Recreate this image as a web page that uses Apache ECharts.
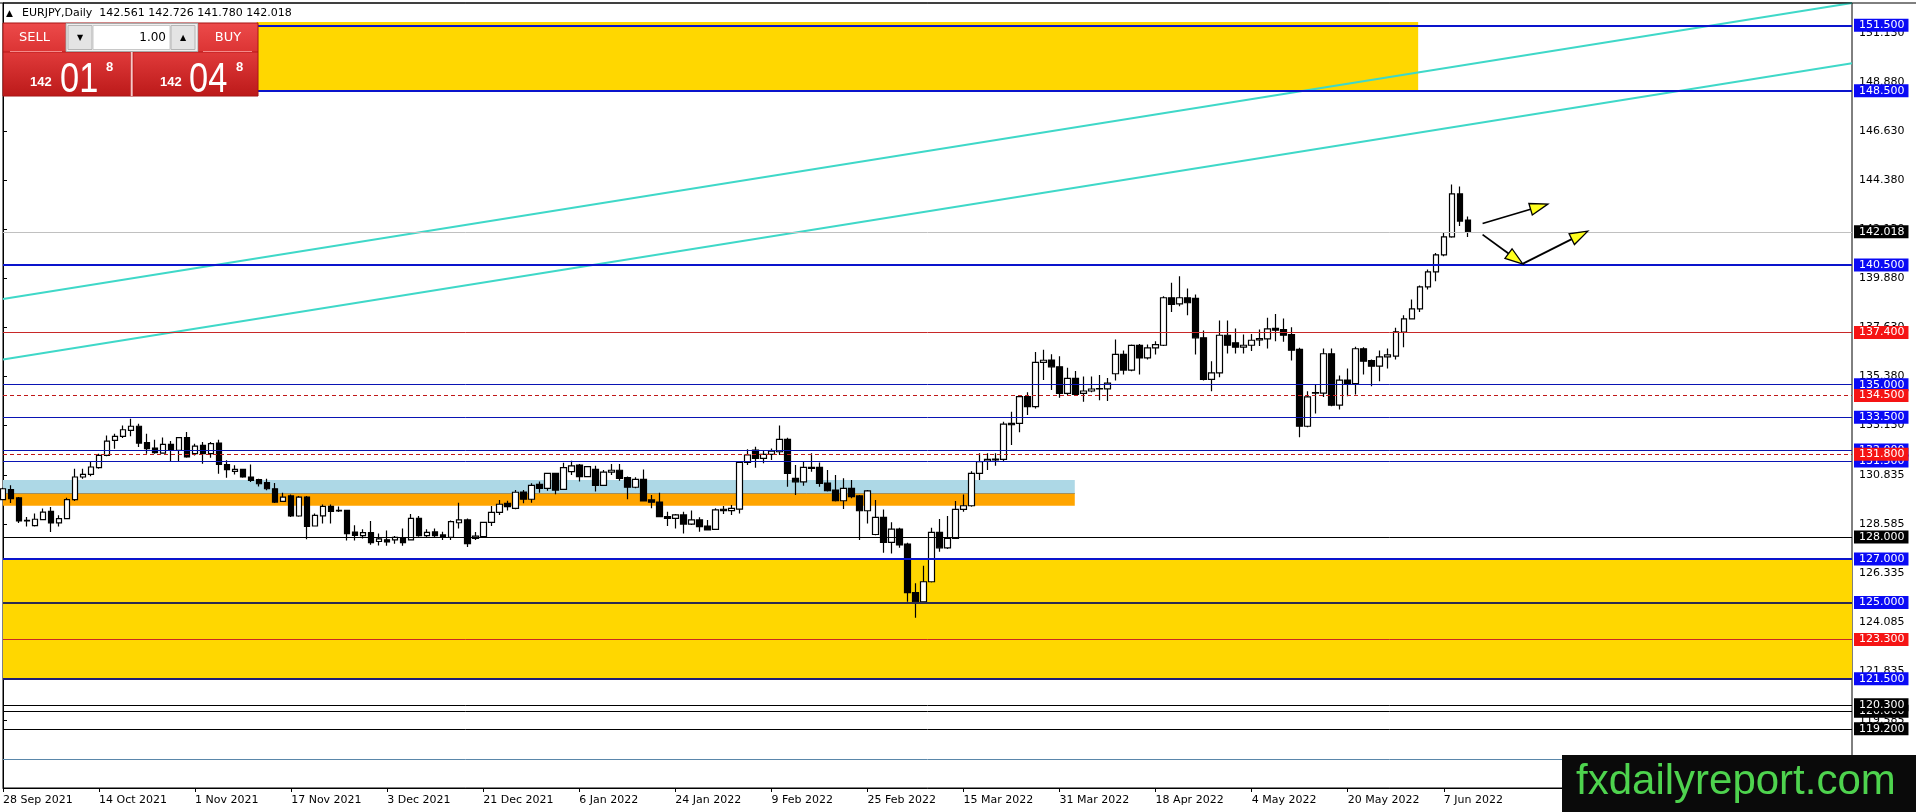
<!DOCTYPE html>
<html><head><meta charset="utf-8">
<script src="https://cdn.jsdelivr.net/npm/echarts@6/dist/echarts.min.js"></script>
<style>html,body{margin:0;padding:0;background:#fff}#c{width:1916px;height:812px}</style>
</head><body><div id="c"></div>
<script>
// ---------- DATA ----------
const tradingDays = [
  ['Sep 2021',[28,29,30]],
  ['Oct 2021',[1,4,5,6,7,8,11,12,13,14,15,18,19,20,21,22,25,26,27,28,29]],
  ['Nov 2021',[1,2,3,4,5,8,9,10,11,12,15,16,17,18,19,22,23,24,25,26,29,30]],
  ['Dec 2021',[1,2,3,6,7,8,9,10,13,14,15,16,17,20,21,22,23,24,27,28,29,30,31]],
  ['Jan 2022',[3,4,5,6,7,10,11,12,13,14,17,18,19,20,21,24,25,26,27,28,31]],
  ['Feb 2022',[1,2,3,4,7,8,9,10,11,14,15,16,17,18,21,22,23,24,25,28]],
  ['Mar 2022',[1,2,3,4,7,8,9,10,11,14,15,16,17,18,21,22,23,24,25,28,29,30,31]],
  ['Apr 2022',[1,4,5,6,7,8,11,12,13,14,15,18,19,20,21,22,25,26,27,28,29]],
  ['May 2022',[2,3,4,5,6,9,10,11,12,13,16,17,18,19,20,23,24,25,26,27,30,31]],
  ['Jun 2022',[1,2,3,6,7,8,9,10]]
];
const futureSlots = 48;

const opens = [
129.72,130.18,129.80,128.77,128.53,128.80,129.18,128.65,128.85,129.72,
130.76,130.88,131.19,131.75,132.44,132.63,132.90,133.09,132.34,132.09,
131.86,132.26,131.98,132.57,131.83,132.21,131.83,132.32,131.33,131.02,
131.11,130.76,130.64,130.50,130.22,129.64,129.89,128.97,129.84,128.51,
128.98,129.41,129.23,129.23,128.23,128.07,128.21,127.80,127.88,127.87,
127.98,127.87,128.86,128.07,128.24,128.10,127.99,128.66,128.79,127.94,
128.02,128.68,129.14,129.55,129.32,130.07,129.74,130.42,130.24,130.93,
130.19,131.01,131.31,130.78,131.11,130.38,130.98,131.07,130.73,130.29,
130.65,129.71,129.61,128.94,128.86,129.02,128.60,128.79,128.51,128.36,
129.28,129.22,129.29,131.43,132.00,131.62,131.80,131.92,132.49,130.70,
130.54,131.20,131.20,130.48,130.16,129.67,130.24,129.89,129.21,128.12,
128.91,127.76,128.37,127.68,125.45,125.03,125.95,128.22,127.51,127.94,
129.27,129.44,130.93,131.49,131.55,131.57,133.22,133.22,134.45,133.99,
136.02,136.13,135.82,134.60,135.29,134.60,134.71,134.80,134.81,135.50,
136.39,135.67,136.80,136.23,136.69,136.81,138.99,138.71,138.99,138.96,
137.15,135.24,135.54,137.27,136.92,136.72,136.81,137.06,137.10,137.58,
137.53,137.30,136.62,133.09,134.61,134.61,136.42,134.06,135.21,135.05,
136.65,136.11,135.85,136.28,136.31,137.41,138.02,138.48,139.49,140.18,
140.96,141.79,143.76,142.561];
const highs = [
130.27,130.38,129.84,128.92,129.08,129.31,129.38,129.00,129.81,131.14,
131.14,131.45,131.83,132.67,132.75,133.13,133.44,133.21,132.75,132.47,
132.57,132.41,132.60,132.83,132.29,132.37,132.37,132.47,131.53,131.30,
131.14,131.33,130.68,130.68,130.48,130.04,129.96,129.89,129.89,129.08,
129.50,129.50,129.41,129.26,128.54,128.36,128.74,128.17,128.30,128.05,
128.40,129.06,128.97,128.36,128.40,128.25,128.76,129.58,128.86,128.24,
128.71,129.43,129.71,129.67,130.16,130.16,130.47,130.55,130.96,130.96,
131.42,131.51,131.36,131.27,131.28,131.08,131.36,131.36,130.78,130.75,
131.11,129.93,130.04,129.17,129.06,129.17,129.22,128.91,128.79,129.32,
129.43,129.48,131.49,132.03,132.15,131.95,132.07,133.12,132.56,131.31,
131.46,131.85,131.43,131.08,130.85,130.70,130.62,129.93,130.16,129.70,
129.27,128.68,128.43,127.74,125.88,126.69,128.43,128.83,128.97,129.66,
129.96,131.03,131.85,131.85,131.85,133.30,133.76,134.52,134.65,136.50,
136.60,136.40,136.30,135.78,135.63,135.37,135.37,135.44,135.31,137.07,
136.57,136.84,136.87,136.84,136.99,139.06,139.68,139.98,139.42,139.14,
137.49,136.08,137.95,137.95,137.58,137.30,137.33,137.53,138.07,138.25,
138.04,137.64,136.69,134.70,134.98,136.66,136.66,135.42,135.74,136.74,
136.72,136.16,136.57,136.66,137.61,138.19,138.91,139.55,140.29,141.05,
141.97,144.19,144.10,142.726];
const lows = [
129.69,129.57,128.65,128.49,128.49,128.77,128.23,128.49,128.83,129.66,
130.68,130.79,131.14,131.71,132.06,132.55,132.63,132.14,131.83,131.83,
131.83,131.45,131.45,131.65,131.75,131.37,131.65,130.91,130.73,130.88,
130.73,130.53,130.33,130.15,129.57,129.61,128.92,128.94,127.90,128.49,
128.62,128.62,129.15,127.85,127.85,127.94,127.65,127.62,127.60,127.70,
127.60,127.85,128.02,127.99,127.99,127.87,127.87,128.40,127.55,127.87,
127.99,128.51,129.02,129.22,129.28,129.55,129.58,130.04,130.13,129.97,
130.16,130.85,130.55,130.75,130.09,130.35,130.85,130.59,129.74,130.24,
129.63,129.32,128.91,128.51,128.40,128.17,128.56,128.25,128.30,128.33,
129.06,129.02,129.09,131.31,131.19,131.39,131.54,131.77,130.31,129.93,
130.36,131.00,130.31,130.09,129.63,129.29,129.78,127.87,128.63,128.09,
127.28,127.25,127.51,125.03,124.30,125.00,125.92,127.33,127.45,127.91,
129.17,129.40,130.62,131.08,131.28,131.49,132.23,132.81,133.61,133.91,
135.21,134.75,134.40,134.52,134.49,134.22,134.65,134.29,134.25,135.19,
135.47,135.62,135.47,136.16,136.39,136.77,138.34,138.60,138.19,136.39,
135.19,134.70,135.34,136.43,136.43,136.43,136.54,136.77,136.66,136.99,
136.97,136.11,132.59,133.05,133.68,134.43,134.01,133.86,134.47,134.55,
135.47,134.93,135.16,135.74,136.16,136.72,137.99,138.34,139.37,139.75,
140.90,141.74,142.28,141.780];
const closes = [
130.22,129.77,128.74,128.74,128.82,129.15,128.65,128.85,129.72,130.76,
130.88,131.22,131.75,132.41,132.63,132.93,133.09,132.32,132.06,131.88,
132.26,131.98,132.57,131.68,132.18,131.83,132.29,131.34,131.10,131.11,
130.76,130.61,130.45,130.22,129.61,129.84,128.97,129.84,128.49,129.00,
129.41,129.18,129.20,128.16,128.08,128.21,127.75,127.92,127.78,127.99,
127.75,128.86,128.07,128.22,128.07,127.99,128.71,128.79,127.70,128.05,
128.68,129.14,129.51,129.40,130.06,129.74,130.38,130.24,130.93,130.16,
131.19,131.27,130.78,131.24,130.38,130.98,131.07,130.70,130.29,130.65,
129.66,129.60,128.94,128.86,129.02,128.60,128.79,128.48,128.33,129.25,
129.22,129.32,131.43,131.77,131.62,131.80,131.95,132.49,130.93,130.54,
131.20,131.16,130.47,130.13,129.67,130.24,129.86,129.21,130.12,128.91,
127.76,128.37,127.64,125.45,125.03,125.95,128.22,127.51,127.94,129.27,
129.44,130.93,131.46,131.57,131.58,133.19,133.16,134.45,133.99,136.02,
136.12,135.82,134.60,135.29,134.55,134.71,134.80,134.82,135.07,136.39,
135.67,136.80,136.23,136.69,136.84,138.99,138.68,138.99,138.76,137.15,
135.24,135.54,137.27,136.81,136.72,136.81,137.04,137.12,137.56,137.50,
137.27,136.58,133.09,134.44,134.63,136.42,134.06,135.21,135.01,136.65,
136.08,135.85,136.28,136.37,137.43,138.02,138.48,139.49,140.18,140.96,
141.79,143.76,142.51,142.018];

const yTicks = [151.13,148.88,146.63,144.38,142.13,139.88,137.63,135.38,133.13,130.835,128.585,126.335,124.085,121.835,119.585];
const levelPrices = [151.5,148.5,142.018,140.5,137.4,135.0,134.5,133.5,132.0,131.5,131.8,128.0,127.0,125.0,123.3,121.5,120.0,120.3,119.2,117.8];
const levelKinds  = ['blueT','blueT','current','blueT','red','blue','redDash','blue','blue','blue','redDash','black','blueT','navyT','red','navyT','black','black','black','steel'];

const trendUpper = [[0,138.93],[231,152.52]];
const trendLower = [[0,136.16],[231,149.76]];
// [xStart, yStart, xEnd, yEnd] in bar-index / price
const arrowSegs = [[184.85,142.40,193.0,143.29],[184.85,141.89,189.9,140.53],[189.9,140.56,198.0,142.05]];
// rectangles: [xStart, yTop, xEnd, yBottom]
const zoneTopYellow = [31.7,151.65,176.8,148.5];
const zoneBottomYellow = [0,127.0,231,121.5];
const zoneLightBlue = [0,130.62,133.9,130.02];
const zoneOrange = [0,130.02,133.9,129.44];
const quote = {symbol:'EURJPY,Daily', o:'142.561', h:'142.726', l:'141.780', c:'142.018'};
const sellParts = ['142','01','8'];
const buyParts = ['142','04','8'];
const lotSize = '1.00';

// ---------- BUILD ----------
const dates = [];
tradingDays.forEach(([m,days])=>days.forEach(d=>dates.push(d+' '+m)));
const categories = dates.concat(new Array(futureSlots).fill(''));
const candleData = opens.map((o,i)=>[o, closes[i], lows[i], highs[i]]);
const FONT = 'DejaVu Sans';

const kindStyle = {
  blueT:{c:'#0A14CC',w:2,t:'solid',bg:'#0A0AF5',lab:true},
  blue:{c:'#0A14B4',w:1,t:'solid',bg:'#0A0AF5',lab:true},
  navyT:{c:'#1E1E78',w:2,t:'solid',bg:'#0A0AF5',lab:true},
  red:{c:'#C82828',w:1,t:'solid',bg:'#F51414',lab:true},
  redDash:{c:'#C01818',w:1,t:[4,3],bg:'#F51414',lab:true},
  black:{c:'#000000',w:1,t:'solid',bg:'#000000',lab:true},
  current:{c:'#C0C0C0',w:1,t:'solid',bg:'#000000',lab:true},
  steel:{c:'#5A87AA',w:1,t:'solid',bg:'#5A87AA',lab:false}
};
const dark125 = '#2C2C50';
const levelData = levelPrices.map((v,i)=>{
  const s = kindStyle[levelKinds[i]];
  return {
    yAxis: v,
    lineStyle:{color:(v===125.0?dark125:s.c), width:s.w, type:s.t},
    label:{show:s.lab, position:'end', distance:2, formatter:v.toFixed(3),
      color:'#fff', backgroundColor:s.bg, padding:[1,4,0,5], fontFamily:FONT, fontSize:11, lineHeight:12}
  };
});

const zoneItem = (z,color)=>[{xAxis:z[0],yAxis:z[1],itemStyle:{color:color}},{xAxis:z[2],yAxis:z[3]}];

const chart = echarts.init(document.getElementById('c'), null, {renderer:'canvas', width:1916, height:812});

const txt = (x,y,text,font,fill,align,va,extra)=>Object.assign({type:'text',x:x,y:y,z:101,silent:true,
  style:{text:text,font:font,fill:fill,align:align||'left',verticalAlign:va||'middle'}},extra||{});
const rect = (x,y,w,h,fill,stroke,extra)=>Object.assign({type:'rect',z:100,silent:true,shape:{x:x,y:y,width:w,height:h},
  style:{fill:fill,stroke:stroke||null,lineWidth:1}},extra||{});
const grad = (a,b)=>new echarts.graphic.LinearGradient(0,0,0,1,[{offset:0,color:a},{offset:1,color:b}]);

const graphics = [
  {type:'line',z:100,silent:true,shape:{x1:0,y1:3,x2:1916,y2:3},style:{stroke:'#000',lineWidth:1}},
  txt(6,13.5,'▲','9px "'+FONT+'"','#000'),
  txt(22,13.5,quote.symbol+'  '+quote.o+' '+quote.h+' '+quote.l+' '+quote.c,'11px "'+FONT+'"','#000'),
  // trading panel
  rect(3,23,255,73,'#B81818','#A01010'),
  rect(3.5,23.5,62,28,grad('#EC4A4A','#DC3434')),
  txt(34.5,37.5,'SELL','13px "'+FONT+'"','#fff','center'),
  {type:'line',z:101,silent:true,shape:{x1:10,y1:51.5,x2:62,y2:51.5},style:{stroke:'#F38A8A',lineWidth:1}},
  rect(66,23.5,132,28,'#F0F0F0','#A8A8A8'),
  rect(68,25.5,24,24,'#E4E4E4','#B4B4B4'),
  txt(80,37.5,'▼','8px "'+FONT+'"','#000','center'),
  rect(93,25.5,77,24,'#FFFFFF','#C8C8C8'),
  txt(166,37.5,lotSize,'12px "'+FONT+'"','#000','right'),
  rect(171,25.5,24,24,'#E4E4E4','#B4B4B4'),
  txt(183,37.5,'▲','8px "'+FONT+'"','#000','center'),
  rect(198.5,23.5,59,28,grad('#EC4A4A','#DC3434')),
  txt(228,37.5,'BUY','13px "'+FONT+'"','#fff','center'),
  {type:'line',z:101,silent:true,shape:{x1:203,y1:51.5,x2:252,y2:51.5},style:{stroke:'#F38A8A',lineWidth:1}},
  rect(3.5,52.5,126.5,43,grad('#E03A3A','#BC1A1A')),
  rect(133.5,52.5,124,43,grad('#E03A3A','#BC1A1A')),
  {type:'line',z:101,silent:true,shape:{x1:131.7,y1:52,x2:131.7,y2:96},style:{stroke:'#F6C8C8',lineWidth:2}},
  txt(30,82.7,sellParts[0],'bold 13px "Liberation Sans"','#fff'),
  txt(60,80,sellParts[1],'43px "Liberation Sans"','#fff','left','middle',{scaleX:0.8}),
  txt(106,67.4,sellParts[2],'bold 13px "Liberation Sans"','#fff'),
  txt(160,82.7,buyParts[0],'bold 13px "Liberation Sans"','#fff'),
  txt(189,80,buyParts[1],'43px "Liberation Sans"','#fff','left','middle',{scaleX:0.8}),
  txt(236,67.4,buyParts[2],'bold 13px "Liberation Sans"','#fff'),
  // watermark
  rect(1562,755,354,57,'#0A0A0A'),
  txt(1576,782,'fxdailyreport.com','42px "Liberation Sans"','#4ED34E')
];

function renderArrow(params, api){
  const p0 = api.coord([api.value(0), api.value(1)]);
  const p1 = api.coord([api.value(2), api.value(3)]);
  const dx = p1[0]-p0[0], dy = p1[1]-p0[1];
  const len = Math.sqrt(dx*dx+dy*dy);
  const ux = dx/len, uy = dy/len, nx = -uy, ny = ux;
  const L = 18, W = 6;
  const bx = p1[0]-ux*L, by = p1[1]-uy*L;
  return {type:'group', children:[
    {type:'line', shape:{x1:p0[0],y1:p0[1],x2:bx,y2:by}, style:{stroke:'#000',lineWidth:1.8}},
    {type:'polygon', shape:{points:[[p1[0],p1[1]],[bx+nx*W,by+ny*W],[bx-nx*W,by-ny*W]]},
      style:{fill:'#FFFF1E',stroke:'#000',lineWidth:1.3}}
  ]};
}

const option = {
  animation:false,
  backgroundColor:'#fff',
  grid:{left:3,right:64,top:3,bottom:24,show:true,borderColor:'#000',borderWidth:1,backgroundColor:'#fff'},
  xAxis:[
    {type:'category',data:categories,boundaryGap:false,
      axisLine:{show:true,lineStyle:{color:'#000',width:1}},
      axisTick:{show:true,length:4,interval:(i,v)=>v!==''&&i%12===0,lineStyle:{color:'#000'}},
      axisLabel:{interval:(i,v)=>v!==''&&i%12===0,align:'left',margin:7,color:'#000',fontFamily:FONT,fontSize:11},
      splitLine:{show:false}},
    {type:'value',min:0,max:231,show:false}
  ],
  yAxis:[{type:'value',position:'right',min:116.481,max:152.524,scale:true,
    axisLine:{show:true,lineStyle:{color:'#000',width:1}},
    axisTick:{show:true,length:4,customValues:yTicks,lineStyle:{color:'#000'}},
    axisLabel:{customValues:yTicks,formatter:v=>v.toFixed(3),margin:7,color:'#000',fontFamily:FONT,fontSize:11},
    splitLine:{show:false}}],
  graphic:{elements:graphics},
  series:[
    {name:'zones',type:'line',xAxisIndex:1,yAxisIndex:0,data:trendUpper,symbol:'none',silent:true,z:3,
      lineStyle:{color:'#3FD8C8',width:2},
      markArea:{silent:true,label:{show:false},data:[
        zoneItem(zoneTopYellow,'#FFD700'),
        zoneItem(zoneBottomYellow,'#FFD700'),
        zoneItem(zoneLightBlue,'#ADD8E6'),
        zoneItem(zoneOrange,'#FFA500')
      ]}},
    {name:'trendLower',type:'line',xAxisIndex:1,yAxisIndex:0,data:trendLower,symbol:'none',silent:true,z:3,
      lineStyle:{color:'#3FD8C8',width:2},
      markLine:{silent:true,symbol:['none','none'],label:{show:false},z:1,
        data:[[{coord:[zoneOrange[0],zoneOrange[1]],lineStyle:{color:'#A09060',width:1,type:'solid'}},{coord:[zoneOrange[2],zoneOrange[1]]}]]}},
    {name:'EURJPY',type:'candlestick',xAxisIndex:0,yAxisIndex:0,data:candleData,barWidth:6,silent:true,z:2,
      itemStyle:{color:'#FFFFFF',color0:'#000000',borderColor:'#000000',borderColor0:'#000000',borderWidth:1.2},
      markLine:{silent:true,symbol:['none','none'],animation:false,data:levelData}},
    {name:'arrows',type:'custom',xAxisIndex:1,yAxisIndex:0,data:arrowSegs,renderItem:renderArrow,silent:true,z:6,
      encode:{x:[0,2],y:[1,3]}}
  ]
};
chart.setOption(option);
</script>
</body></html>
